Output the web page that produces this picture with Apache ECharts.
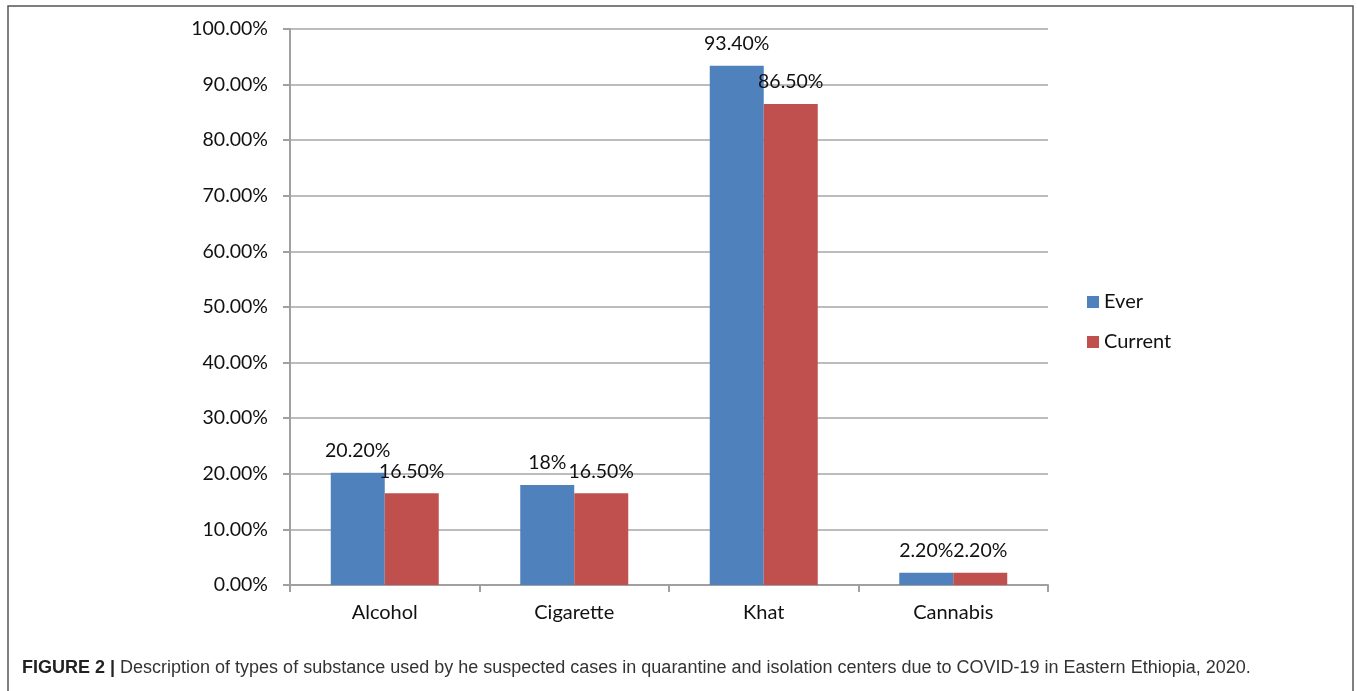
<!DOCTYPE html>
<html>
<head>
<meta charset="utf-8">
<script src="https://cdn.jsdelivr.net/npm/echarts@6/dist/echarts.min.js"></script>
<style>
html,body{margin:0;padding:0;background:#fff;}
#c{width:1357px;height:691px;}
</style>
</head>
<body>
<div id="c"></div>
<script>
const categories = ['Alcohol', 'Cigarette', 'Khat', 'Cannabis'];
const everValues = [20.2, 18, 93.4, 2.2];
const currentValues = [16.5, 16.5, 86.5, 2.2];
const everLabels = ['20.20%', '18%', '93.40%', '2.20%'];
const currentLabels = ['16.50%', '16.50%', '86.50%', '2.20%'];
const yTicks = [0, 10, 20, 30, 40, 50, 60, 70, 80, 90, 100];

const chart = echarts.init(document.getElementById('c'));
const font = 'Lato, "Open Sans", sans-serif';
chart.setOption({
  animation: false,
  grid: {left: 290, right: 309, top: 29, bottom: 106},
  legend: {
    orient: 'vertical', left: 1082, top: 287, itemWidth: 12, itemHeight: 12, itemGap: 20,
    textStyle: {fontFamily: font, fontSize: 20, color: '#111'},
    icon: 'rect',
    data: ['Ever', 'Current']
  },
  xAxis: {
    type: 'category', data: categories,
    axisLine: {lineStyle: {color: '#a0a0a0', width: 2}},
    axisTick: {show: true, length: 7, lineStyle: {color: '#a0a0a0', width: 2}},
    axisLabel: {fontFamily: font, fontSize: 20, color: '#111', margin: 18}
  },
  yAxis: {
    type: 'value', min: 0, max: 100, interval: 10,
    axisLine: {show: true, lineStyle: {color: '#a0a0a0', width: 2}},
    axisTick: {show: true, length: 7, lineStyle: {color: '#a0a0a0', width: 2}},
    splitLine: {lineStyle: {color: '#a6a6a6', width: 1.5}},
    axisLabel: {
      fontFamily: font, fontSize: 19.5, color: '#111', margin: 22,
      formatter: v => yTicks.includes(v) ? v.toFixed(2) + '%' : ''
    }
  },
  series: [
    {
      name: 'Ever', type: 'bar', data: everValues, barWidth: 54, barGap: '0%',
      itemStyle: {color: '#4f81bd'},
      label: {show: true, position: 'top', distance: 12, fontFamily: font, fontSize: 19.5, color: '#111',
        formatter: p => everLabels[p.dataIndex]}
    },
    {
      name: 'Current', type: 'bar', data: currentValues, barWidth: 54,
      itemStyle: {color: '#c0504d'},
      label: {show: true, position: 'top', distance: 12, fontFamily: font, fontSize: 19.5, color: '#111',
        formatter: p => currentLabels[p.dataIndex]}
    }
  ],
  graphic: [
    {type: 'rect', shape: {x: 8, y: 6, width: 1345, height: 700},
      style: {fill: 'none', stroke: '#555', lineWidth: 1.5}, silent: true},
    {type: 'text', left: 22, top: 659,
      style: {
        text: '{b|FIGURE 2 |} Description of types of substance used by he suspected cases in quarantine and isolation centers due to COVID-19 in Eastern Ethiopia, 2020.',
        rich: {
          b: {fontFamily: '"Liberation Sans", Arial, sans-serif', fontWeight: 'bold', fontSize: 18, fill: '#222'}
        },
        fontFamily: '"Liberation Sans", Arial, sans-serif', fontSize: 18, fill: '#333'
      }}
  ]
});
</script>
</body>
</html>
